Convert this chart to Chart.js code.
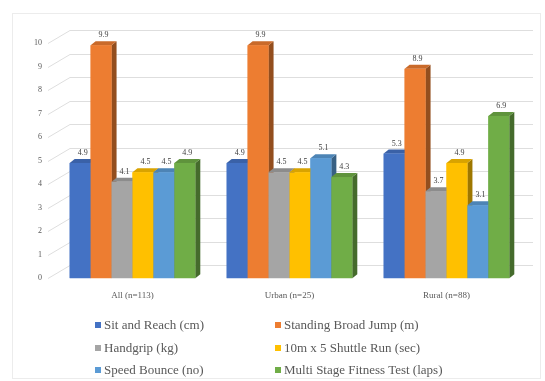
<!DOCTYPE html>
<html>
<head>
<meta charset="utf-8">
<script src="https://cdn.jsdelivr.net/npm/chart.js@4.4.0/dist/chart.umd.min.js"></script>
<style>
  html, body { margin: 0; padding: 0; background: #fff; }
  #wrap { position: relative; width: 545px; height: 381px; }
  #frame { position: absolute; left: 12px; top: 13px; width: 527px; height: 364px; border: 1px solid #ececec; }
  canvas { position: absolute; left: 0; top: 0; }
  #legend { position: absolute; left: 0; top: 0; width: 545px; height: 381px; pointer-events: none;
            font-family: "Liberation Serif", "DejaVu Serif", serif; font-size: 13px; color: #595959; }
  .item { position: absolute; white-space: nowrap; line-height: 14px; }
  .item i { display: inline-block; width: 6px; height: 6px; margin-right: 3px; vertical-align: 1px; }
</style>
</head>
<body>
<div id="wrap">
  <div id="frame"></div>
  <canvas id="fitnessChart" width="545" height="381"></canvas>
  <div id="legend"></div>
</div>
<script>
const groups = ['All (n=113)', 'Urban (n=25)', 'Rural (n=88)'];
const testNames = [
  'Sit and Reach (cm)',
  'Standing Broad Jump (m)',
  'Handgrip (kg)',
  '10m x 5 Shuttle Run (sec)',
  'Speed Bounce (no)',
  'Multi Stage Fitness Test (laps)'
];
const sitReach = [4.9, 4.9, 5.3];
const broadJump = [9.9, 9.9, 8.9];
const handgrip = [4.1, 4.5, 3.7];
const shuttleRun = [4.5, 4.5, 4.9];
const speedBounce = [4.5, 5.1, 3.1];
const multiStage = [4.9, 4.3, 6.9];
const yTicks = [0, 1, 2, 3, 4, 5, 6, 7, 8, 9, 10];

const COLORS = ['#4472C4', '#ED7D31', '#A5A5A5', '#FFC000', '#5B9BD5', '#70AD47'];
const seriesValues = [sitReach, broadJump, handgrip, shuttleRun, speedBounce, multiStage];

// bar depth and back wall offset
const DX = 5, DY = 4;
const WX = 16, WY = 13;
const FONT = '"Liberation Serif", "DejaVu Serif", serif';

function shade(hex, f) {
  const n = parseInt(hex.slice(1), 16);
  const r = Math.round(((n >> 16) & 255) * f);
  const g = Math.round(((n >> 8) & 255) * f);
  const b = Math.round((n & 255) * f);
  return `rgb(${r}, ${g}, ${b})`;
}

function poly(ctx, pts, color) {
  ctx.beginPath();
  ctx.moveTo(pts[0][0], pts[0][1]);
  for (let k = 1; k < pts.length; k++) ctx.lineTo(pts[k][0], pts[k][1]);
  ctx.closePath();
  ctx.fillStyle = color;
  ctx.fill();
}

const bar3d = {
  id: 'bar3d',
  beforeDatasetsDraw(chart) {
    // back wall grid with slanted lines to the value axis
    const { ctx, chartArea, scales: { y } } = chart;
    ctx.save();
    ctx.strokeStyle = '#dedede';
    ctx.lineWidth = 1;
    y.ticks.forEach(t => {
      const py = Math.round(y.getPixelForValue(t.value)) + 0.5;
      ctx.beginPath();
      ctx.moveTo(chartArea.left - 6, py);
      ctx.lineTo(chartArea.left + WX, py - WY);
      ctx.lineTo(chartArea.right + 8, py - WY);
      ctx.stroke();
    });
    ctx.restore();
  },
  afterDatasetsDraw(chart) {
    const ctx = chart.ctx;
    ctx.save();
    chart.data.datasets.forEach((ds, i) => {
      chart.getDatasetMeta(i).data.forEach(bar => {
        const l = bar.x - bar.width / 2, r = bar.x + bar.width / 2;
        const t = bar.y, b = bar.base;
        poly(ctx, [[r, t], [r + DX, t - DY], [r + DX, b - DY], [r, b]], shade(ds.backgroundColor, 0.62));
        poly(ctx, [[l, t], [l + DX, t - DY], [r + DX, t - DY], [r, t]], shade(ds.backgroundColor, 0.85));
        ctx.fillStyle = ds.backgroundColor;
        ctx.fillRect(l, t, r - l, b - t);
      });
    });
    // value labels above each bar
    ctx.fillStyle = '#404040';
    ctx.font = `8px ${FONT}`;
    ctx.textAlign = 'center';
    ctx.textBaseline = 'bottom';
    chart.data.datasets.forEach((ds, i) => {
      chart.getDatasetMeta(i).data.forEach((bar, j) => {
        ctx.fillText(ds.data[j].toFixed(1), bar.x + DX / 2, bar.y - DY - 2);
      });
    });
    ctx.restore();
  }
};

const context = document.getElementById('fitnessChart');
const data = {
  labels: groups,
  datasets: testNames.map((name, i) => ({
    label: name,
    data: seriesValues[i],
    backgroundColor: COLORS[i],
    borderWidth: 0
  }))
};
const config = {
  type: 'bar',
  data: data,
  options: {
    responsive: false,
    animation: false,
    events: [],
    layout: { padding: { left: 22, right: 20, top: 43, bottom: 68 } },
    datasets: { bar: { categoryPercentage: 0.8, barPercentage: 1.0 } },
    plugins: {
      legend: { display: false },
      tooltip: { enabled: false }
    },
    scales: {
      x: {
        grid: { display: false, drawTicks: false },
        border: { display: false },
        ticks: { color: '#595959', font: { family: FONT, size: 9 }, padding: 12 }
      },
      y: {
        min: 0,
        max: 10,
        afterBuildTicks: axis => { axis.ticks = yTicks.map(v => ({ value: v })); },
        grid: { display: false, drawTicks: false },
        border: { display: false },
        ticks: { color: '#595959', font: { family: FONT, size: 8 }, padding: 12 }
      }
    }
  },
  plugins: [bar3d]
};
new Chart(context, config);

// two-column legend under the plot
const legend = document.getElementById('legend');
const colX = [95, 275];
const rowY = [318, 341, 363];
testNames.forEach((name, i) => {
  const el = document.createElement('div');
  el.className = 'item';
  el.style.left = colX[i % 2] + 'px';
  el.style.top = rowY[Math.floor(i / 2)] + 'px';
  el.innerHTML = `<i style="background:${COLORS[i]}"></i>${name}`;
  legend.appendChild(el);
});
</script>
</body>
</html>
